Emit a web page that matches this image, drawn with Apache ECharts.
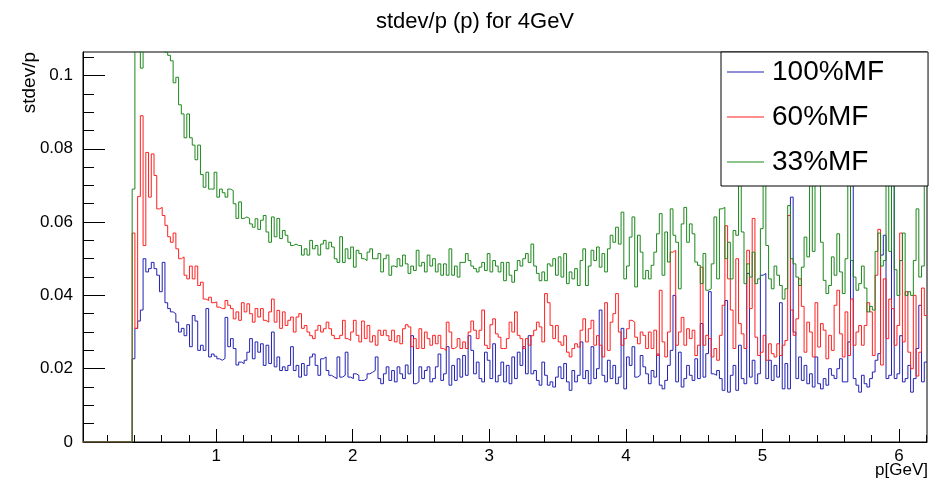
<!DOCTYPE html>
<html>
<head>
<meta charset="utf-8">
<script src="https://cdn.jsdelivr.net/npm/echarts@6/dist/echarts.min.js"></script>
<style>html,body{margin:0;padding:0;background:#fff}#c{width:930px;height:480px}</style>
</head>
<body>
<div id="c"></div>
<script>
// ---- data ----
const seriesNames = ['100%MF', '60%MF', '33%MF'];
const BIN_START = 0.025;   // first bin low edge (p in GeV)
const BIN_WIDTH = 0.02;    // bin width (GeV)
const xTicks = [1, 2, 3, 4, 5, 6];
const xMinorTicks = [0.2,0.4,0.6,0.8,1.2,1.4,1.6,1.8,2.2,2.4,2.6,2.8,3.2,3.4,3.6,3.8,4.2,4.4,4.6,4.8,5.2,5.4,5.6,5.8,6.2];
const yTicks = [0, 0.02, 0.04, 0.06, 0.08, 0.1];
const yMinorTicks = [0.005,0.01,0.015,0.025,0.03,0.035,0.045,0.05,0.055,0.065,0.07,0.075,0.085,0.09,0.095,0.105];

const blue100 = [
0,0,0,0,0,0,0,0,0,0,
0,0,0,0,0,0,0,0,0.0227,0.031,
0.033,0.036,0.050,0.0464,0.0473,0.049,0.0473,0.0455,0.041,0.049,
0.038,0.0364,0.0355,0.035,0.0327,0.030,0.031,0.029,0.032,0.026,
0.0345,0.033,0.025,0.0264,0.025,0.0364,0.0232,0.024,0.0234,0.0227,
0.0223,0.0228,0.034,0.026,0.0282,0.0255,0.021,0.0218,0.0214,0.0223,
0.0245,0.0282,0.0227,0.0273,0.0245,0.0268,0.0209,0.0264,0.0214,0.030,
0.0205,0.0232,0.0195,0.0205,0.0195,0.0209,0.026,0.0195,0.0209,0.0177,
0.0214,0.0182,0.0209,0.0232,0.024,0.0209,0.0182,0.0227,0.0232,0.0195,
0.0182,0.0177,0.0173,0.0232,0.0177,0.0182,0.0245,0.0177,0.0173,0.0186,
0.0182,0.0168,0.0168,0.0173,0.0186,0.019,0.0195,0.0232,0.0173,0.0159,
0.0186,0.0205,0.0168,0.0195,0.0164,0.0205,0.0186,0.0173,0.021,0.0186,
0.029,0.0159,0.0164,0.0205,0.0173,0.0195,0.0205,0.0164,0.0173,0.0205,
0.024,0.0168,0.0186,0.026,0.0155,0.0209,0.0168,0.0227,0.0177,0.0236,
0.0182,0.029,0.025,0.0186,0.0218,0.0173,0.0164,0.0245,0.0223,0.0173,
0.0268,0.0164,0.0182,0.0218,0.0164,0.0209,0.0159,0.0232,0.0173,0.0245,
0.0209,0.026,0.0186,0.029,0.0186,0.0195,0.0168,0.0155,0.0218,0.0182,
0.0155,0.0164,0.015,0.0177,0.0205,0.0173,0.0214,0.0164,0.0141,0.0195,
0.0164,0.0182,0.0273,0.0173,0.0195,0.0159,0.026,0.0173,0.020,0.036,
0.0182,0.0164,0.0223,0.0173,0.0209,0.0159,0.0177,0.031,0.0145,0.0232,
0.0209,0.026,0.0177,0.0182,0.0236,0.0205,0.0186,0.0159,0.0195,0.0177,
0.024,0.0155,0.0145,0.0168,0.0209,0.025,0.040,0.0164,0.0245,0.015,
0.0173,0.0209,0.0182,0.0168,0.0227,0.0173,0.0323,0.0177,0.0241,0.041,
0.0186,0.0182,0.0195,0.0173,0.0141,0.0386,0.0136,0.0182,0.0209,0.0141,
0.0264,0.0173,0.0159,0.046,0.0177,0.0223,0.0159,0.0186,0.0455,0.046,
0.0173,0.0223,0.0168,0.0209,0.0177,0.038,0.0145,0.0214,0.0145,0.0668,
0.030,0.0173,0.0232,0.0168,0.0209,0.0159,0.0186,0.015,0.0232,0.0159,
0.0145,0.0173,0.0155,0.020,0.0182,0.0173,0.020,0.0227,0.0164,0.0164,
0.0273,0.075,0.0173,0.0155,0.0136,0.0182,0.0159,0.015,0.0173,0.0191,
0.0223,0.0241,0.051,0.0564,0.0173,0.0182,0.090,0.0173,0.0186,0.029,
0.0164,0.0173,0.0209,0.0136,0.0173,0.0255,0.0373,0.0164,0.0218
];

const red60 = [
0,0,0,0,0,0,0,0,0,0,
0,0,0,0,0,0,0,0,0.057,0.031,
0.067,0.089,0.0536,0.079,0.0668,0.0786,0.0727,0.0636,0.064,0.0618,
0.0591,0.056,0.0545,0.057,0.0527,0.050,0.0505,0.0455,0.0445,0.048,
0.0445,0.048,0.0427,0.0436,0.039,0.0386,0.0395,0.038,0.0382,0.0368,
0.0364,0.0364,0.0386,0.0373,0.0364,0.0336,0.0355,0.0332,0.038,0.0355,
0.0377,0.035,0.0327,0.0364,0.0341,0.0364,0.0332,0.0327,0.0355,0.039,
0.0327,0.0359,0.031,0.0355,0.0318,0.0332,0.0341,0.030,0.0341,0.035,
0.031,0.0318,0.030,0.029,0.0282,0.0305,0.0318,0.030,0.0309,0.0327,
0.0309,0.0291,0.0282,0.0282,0.0291,0.0332,0.0282,0.0277,0.030,0.0332,
0.0291,0.0273,0.033,0.0282,0.0318,0.0273,0.029,0.0264,0.0305,0.0291,
0.0305,0.029,0.0277,0.0305,0.0273,0.029,0.0268,0.0309,0.032,0.0314,
0.026,0.0282,0.0255,0.0309,0.0255,0.030,0.0282,0.0264,0.0291,0.0268,
0.0291,0.0255,0.025,0.0327,0.030,0.0255,0.026,0.0282,0.0255,0.0273,
0.0255,0.030,0.033,0.0305,0.0282,0.0305,0.036,0.0264,0.0255,0.032,
0.0336,0.0295,0.0286,0.0255,0.0255,0.0282,0.0327,0.030,0.0355,0.0291,
0.0282,0.0255,0.0282,0.0264,0.029,0.0305,0.0327,0.0314,0.0273,0.0405,
0.038,0.0318,0.0282,0.0318,0.0273,0.0264,0.029,0.0245,0.0232,0.0255,
0.0268,0.0259,0.0305,0.0336,0.0273,0.0309,0.0332,0.0264,0.029,0.0264,
0.0232,0.038,0.025,0.0327,0.035,0.0405,0.030,0.0264,0.0282,0.0309,
0.0332,0.0327,0.0286,0.0268,0.030,0.0291,0.0255,0.030,0.0255,0.0305,
0.0236,0.0414,0.0273,0.0232,0.030,0.0518,0.0523,0.0264,0.030,0.034,
0.0264,0.0309,0.0282,0.0305,0.0236,0.0264,0.0477,0.0264,0.0291,0.0282,
0.0232,0.0255,0.0223,0.0291,0.0373,0.059,0.0445,0.036,0.0255,0.050,
0.0323,0.0295,0.0255,0.0523,0.0364,0.061,0.0286,0.0236,0.0245,0.0291,
0.0223,0.0268,0.0241,0.0232,0.0268,0.0236,0.0264,0.0277,0.0618,0.036,
0.0291,0.0336,0.0445,0.037,0.0245,0.0327,0.030,0.0232,0.038,0.0259,
0.0323,0.0305,0.0227,0.0291,0.025,0.0373,0.0414,0.0295,0.0232,0.0355,
0.0236,0.039,0.0264,0.030,0.0318,0.0264,0.0318,0.038,0.0355,0.0236,
0.0455,0.058,0.021,0.0445,0.0282,0.039,0.0364,0.0264,0.0318,0.057,
0.0273,0.041,0.0245,0.020,0.040,0.018,0.0245,0.042,0.0345
];

const green33 = [
0,0,0,0,0,0,0,0,0,0,
0,0,0,0,0,0,0,0,0.069,0.118,
0.113,0.102,0.118,0.116,0.113,0.115,0.112,0.110,0.111,0.108,
0.1063,0.1055,0.104,0.098,0.0995,0.092,0.0895,0.083,0.0895,0.083,
0.081,0.077,0.081,0.073,0.0695,0.0736,0.069,0.069,0.0736,0.0668,
0.069,0.068,0.0668,0.069,0.0686,0.065,0.061,0.0655,0.061,0.0614,
0.061,0.0595,0.0586,0.0609,0.058,0.0605,0.0618,0.0573,0.0545,0.0614,
0.056,0.061,0.0555,0.0577,0.0564,0.0545,0.0536,0.054,0.0536,0.0536,
0.051,0.0527,0.051,0.055,0.0527,0.0536,0.051,0.054,0.055,0.0527,
0.0545,0.0532,0.050,0.049,0.056,0.049,0.0527,0.050,0.0532,0.0477,
0.0523,0.0514,0.050,0.0495,0.0518,0.0527,0.050,0.050,0.0514,0.0464,
0.050,0.051,0.0455,0.048,0.0477,0.050,0.048,0.051,0.0486,0.046,
0.048,0.0468,0.0523,0.048,0.049,0.0464,0.051,0.048,0.050,0.0464,
0.0486,0.0455,0.0486,0.0455,0.0527,0.0455,0.048,0.045,0.049,0.049,
0.0514,0.0495,0.048,0.0473,0.0464,0.0477,0.049,0.0468,0.0514,0.0464,
0.0495,0.048,0.0464,0.049,0.044,0.049,0.0455,0.0436,0.0468,0.0495,
0.048,0.050,0.0514,0.049,0.054,0.048,0.046,0.044,0.0464,0.044,
0.0486,0.048,0.050,0.0455,0.0505,0.045,0.0514,0.0432,0.0464,0.0445,
0.0473,0.0427,0.0495,0.0527,0.0427,0.048,0.0523,0.0495,0.0532,0.0477,
0.0514,0.0464,0.0527,0.0564,0.0545,0.0586,0.054,0.0627,0.0445,0.048,
0.0559,0.0614,0.0423,0.0564,0.0518,0.0445,0.0468,0.0445,0.0482,0.0518,
0.0568,0.0623,0.0455,0.0573,0.0491,0.0636,0.0564,0.0545,0.0418,0.0595,
0.064,0.0545,0.0595,0.0568,0.0491,0.0482,0.0432,0.0514,0.0414,0.0418,
0.0486,0.0614,0.0445,0.0636,0.064,0.050,0.0545,0.0445,0.0577,0.0564,
0.078,0.0573,0.0432,0.0486,0.045,0.0518,0.0432,0.0445,0.0582,0.085,
0.0536,0.0445,0.0418,0.048,0.0455,0.0427,0.039,0.0418,0.0645,0.050,
0.0486,0.045,0.0427,0.0477,0.0559,0.0505,0.080,0.052,0.075,0.095,
0.0545,0.0441,0.0405,0.0427,0.0505,0.0455,0.0568,0.0464,0.0405,0.050,
0.072,0.0495,0.045,0.0414,0.0432,0.048,0.042,0.0355,0.037,0.036,
0.052,0.057,0.048,0.0495,0.085,0.052,0.078,0.047,0.040,0.0495,
0.057,0.040,0.041,0.040,0.0495,0.0636,0.045,0.048,0.090
];

const seriesValues = [blue100, red60, green33];
const seriesColors = ['#2222b4', '#ff2020', '#1c881c'];

const X_MIN = BIN_START;
const X_MAX = BIN_START + blue100.length * BIN_WIDTH;
const Y_MIN = 0;
const Y_MAX = 0.1064;
const FONT = '"Liberation Sans", Arial, Helvetica, sans-serif';

// histogram outline: one point per bin low edge + closing point at the last high edge
function histSteps(vals) {
  const pts = vals.map((v, j) => [BIN_START + j * BIN_WIDTH, v]);
  pts.push([BIN_START + vals.length * BIN_WIDTH, vals[vals.length - 1]]);
  return pts;
}

const chart = echarts.init(document.getElementById('c'), null, {renderer: 'canvas'});

const option = {
  animation: false,
  backgroundColor: '#ffffff',
  title: {
    text: 'stdev/p (p) for 4GeV',
    left: 475, top: 11, padding: 0, textAlign: 'center',
    textStyle: {fontFamily: FONT, fontSize: 22, fontWeight: 'normal', color: '#000'}
  },
  grid: {left: 83, top: 52, right: 3, bottom: 38, show: true, borderColor: '#000', borderWidth: 1, backgroundColor: 'transparent'},
  xAxis: [
    {
      type: 'value', min: X_MIN, max: X_MAX, position: 'bottom',
      axisLine: {show: true, onZero: false, lineStyle: {color: '#000', width: 1}},
      axisTick: {show: true, inside: true, length: 13, customValues: xTicks, lineStyle: {color: '#000'}},
      axisLabel: {show: true, customValues: xTicks, color: '#000', fontSize: 17, fontFamily: FONT, margin: 6},
      splitLine: {show: false}
    },
    {
      type: 'value', min: X_MIN, max: X_MAX, position: 'bottom',
      axisLine: {show: false},
      axisTick: {show: true, inside: true, length: 7, customValues: xMinorTicks, lineStyle: {color: '#000'}},
      axisLabel: {show: false},
      splitLine: {show: false}
    }
  ],
  yAxis: [
    {
      type: 'value', min: Y_MIN, max: Y_MAX, position: 'left',
      axisLine: {show: true, onZero: false, lineStyle: {color: '#000', width: 1}},
      axisTick: {show: true, inside: true, length: 22, customValues: yTicks, lineStyle: {color: '#000'}},
      axisLabel: {show: true, customValues: yTicks, color: '#000', fontSize: 17, fontFamily: FONT, margin: 10},
      splitLine: {show: false}
    },
    {
      type: 'value', min: Y_MIN, max: Y_MAX, position: 'left',
      axisLine: {show: false},
      axisTick: {show: true, inside: true, length: 11, customValues: yMinorTicks, lineStyle: {color: '#000'}},
      axisLabel: {show: false},
      splitLine: {show: false}
    }
  ],
  legend: {
    orient: 'vertical', left: 721, top: 52,
    padding: [5, 44, 9, 6], itemGap: 15, itemWidth: 37, itemHeight: 1,
    icon: 'rect',
    backgroundColor: '#ffffff', borderColor: '#000', borderWidth: 1,
    textStyle: {fontSize: 28, fontFamily: FONT, color: '#000', lineHeight: 30, padding: [0, 0, 0, 3]},
    data: seriesNames,
    selectedMode: false
  },
  graphic: [
    {type: 'text', x: 30, y: 52, rotation: Math.PI / 2,
     style: {text: 'stdev/p', fill: '#000', font: '19px ' + FONT, align: 'right', verticalAlign: 'middle'}},
    {type: 'text', x: 928, y: 470,
     style: {text: 'p[GeV]', fill: '#000', font: '17px ' + FONT, align: 'right', verticalAlign: 'middle'}}
  ],
  series: seriesNames.map((name, i) => ({
    name: name, type: 'line', step: 'end',
    xAxisIndex: 0, yAxisIndex: 0,
    symbol: 'none', showSymbol: false, clip: true,
    lineStyle: {color: seriesColors[i], width: 1},
    itemStyle: {color: seriesColors[i]},
    emphasis: {disabled: true},
    data: histSteps(seriesValues[i])
  }))
};
chart.setOption(option);
</script>
</body>
</html>
